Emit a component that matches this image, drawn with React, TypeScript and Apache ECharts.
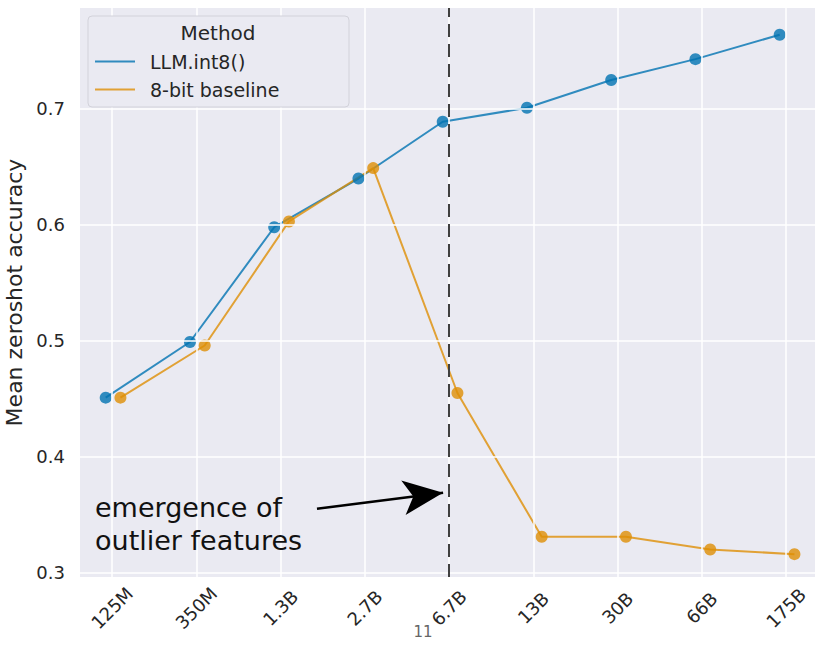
import { useEffect, useRef } from 'react';
import * as echarts from 'echarts';

// Model sizes along the x axis
const categories = ['125M', '350M', '1.3B', '2.7B', '6.7B', '13B', '30B', '66B', '175B'];
// Mean zeroshot accuracy per model size
const int8Acc = [0.451, 0.499, 0.598, 0.64, 0.689, 0.701, 0.725, 0.743, 0.764];
const baselineAcc = [0.451, 0.496, 0.603, 0.649, 0.455, 0.331, 0.331, 0.32, 0.316];
const yTicks = [0.3, 0.4, 0.5, 0.6, 0.7];
// Model size at which outlier features emerge
const outlierOnset = '6.7B';

const FONT = 'DejaVu Sans';
const TEXT = '#262626';
const BLUE = 'rgba(1,115,178,0.8)';
const ORANGE = 'rgba(222,143,5,0.8)';

export default function App() {
  const ref = useRef<HTMLDivElement>(null);

  useEffect(() => {
    const chart = echarts.init(ref.current!, null, { renderer: 'svg' });
    const onsetIdx = categories.indexOf(outlierOnset);

    chart.setOption({
      animation: false,
      backgroundColor: '#ffffff',
      grid: {
        left: 80,
        right: 0,
        top: 8,
        bottom: 70,
        outerBoundsMode: 'none',
        containLabel: false,
        show: true,
        backgroundColor: '#EAEAF2',
        borderWidth: 0,
      },
      xAxis: {
        type: 'value',
        min: -0.38,
        max: 8.344,
        axisLine: { show: false },
        axisTick: { show: false },
        splitLine: { show: false },
        axisLabel: {
          customValues: categories.map((_, i) => i),
          formatter: (v: number) => categories[Math.round(v)] ?? '',
          rotate: 45,
          align: 'center',
          verticalAlign: 'middle',
          margin: 31,
          fontSize: 18,
          fontFamily: FONT,
          color: TEXT,
        },
      },
      yAxis: {
        type: 'value',
        min: 0.2963,
        max: 0.7871,
        axisLine: { show: false },
        axisTick: { show: false },
        splitLine: { show: false },
        axisLabel: {
          customValues: yTicks,
          formatter: (v: number) => v.toFixed(1),
          margin: 15,
          fontSize: 18,
          fontFamily: FONT,
          color: TEXT,
        },
        name: 'Mean zeroshot accuracy',
        nameLocation: 'middle',
        nameGap: 47,
        nameTextStyle: { fontSize: 22, fontFamily: FONT, color: TEXT },
      },
      legend: {
        data: ['LLM.int8()', '8-bit baseline'],
        orient: 'vertical',
        left: 95,
        top: 52,
        padding: 0,
        itemGap: 9,
        itemWidth: 40,
        itemHeight: 2,
        icon: 'rect',
        selectedMode: false,
        z: 20,
        textStyle: {
          fontSize: 19,
          fontFamily: FONT,
          color: TEXT,
          padding: [0, 0, 0, 10],
        },
      },
      graphic: [
        {
          type: 'rect',
          z: 10,
          shape: { x: 88, y: 16, width: 261, height: 91, r: 4 },
          style: { fill: '#EAEAF2', stroke: '#d2d2da', lineWidth: 1 },
        },
        {
          type: 'text',
          z: 11,
          x: 218,
          y: 33,
          style: {
            text: 'Method',
            fontSize: 20,
            fontFamily: FONT,
            fill: TEXT,
            align: 'center',
            verticalAlign: 'middle',
          },
        },
        {
          type: 'text',
          z: 11,
          x: 95,
          y: 523.5,
          style: {
            text: 'emergence of\noutlier features',
            fontSize: 27,
            lineHeight: 33,
            fontFamily: FONT,
            fill: '#111111',
            verticalAlign: 'middle',
          },
        },
        {
          type: 'text',
          z: 11,
          x: 423,
          y: 632,
          style: {
            text: '11',
            fontSize: 15,
            fontFamily: FONT,
            fill: '#666666',
            align: 'center',
            verticalAlign: 'middle',
          },
        },
      ],
      series: [
        {
          // white grid lines
          type: 'scatter',
          data: [],
          z: 1,
          silent: true,
          markLine: {
            silent: true,
            symbol: 'none',
            label: { show: false },
            lineStyle: { color: '#ffffff', width: 1.5, type: 'solid' },
            data: [
              ...categories.map((_, i) => ({ xAxis: i })),
              ...yTicks.map((v) => ({ yAxis: v })),
            ],
          },
        },
        {
          // dashed marker at the onset of outlier features
          type: 'scatter',
          data: [],
          z: 2,
          silent: true,
          markLine: {
            silent: true,
            symbol: 'none',
            label: { show: false },
            lineStyle: { color: '#404040', width: 2, type: [13, 7] },
            data: [{ xAxis: onsetIdx }],
          },
        },
        {
          name: 'LLM.int8()',
          type: 'line',
          z: 3,
          data: int8Acc.map((v, i) => [i - 0.075, v]),
          symbol: 'circle',
          symbolSize: 12,
          itemStyle: { color: BLUE, borderWidth: 0 },
          lineStyle: { color: BLUE, width: 2 },
        },
        {
          name: '8-bit baseline',
          type: 'line',
          z: 3,
          data: baselineAcc.map((v, i) => [i + 0.1, v]),
          symbol: 'circle',
          symbolSize: 12,
          itemStyle: { color: ORANGE, borderWidth: 0 },
          lineStyle: { color: ORANGE, width: 2 },
        },
        {
          // annotation arrow pointing at the onset line
          type: 'scatter',
          data: [],
          z: 4,
          silent: true,
          markLine: {
            silent: true,
            label: { show: false },
            lineStyle: { color: '#000000', width: 2.5, type: 'solid' },
            data: [
              [
                { coord: [2.433, 0.3552], symbol: 'none' },
                { coord: [3.93, 0.369], symbol: 'arrow', symbolSize: [26, 40] },
              ],
            ],
          },
        },
      ],
    });

    return () => chart.dispose();
  }, []);

  return (
    <div
      ref={ref}
      style={{ position: 'fixed', left: 0, top: 0, width: 815, height: 647 }}
    />
  );
}
